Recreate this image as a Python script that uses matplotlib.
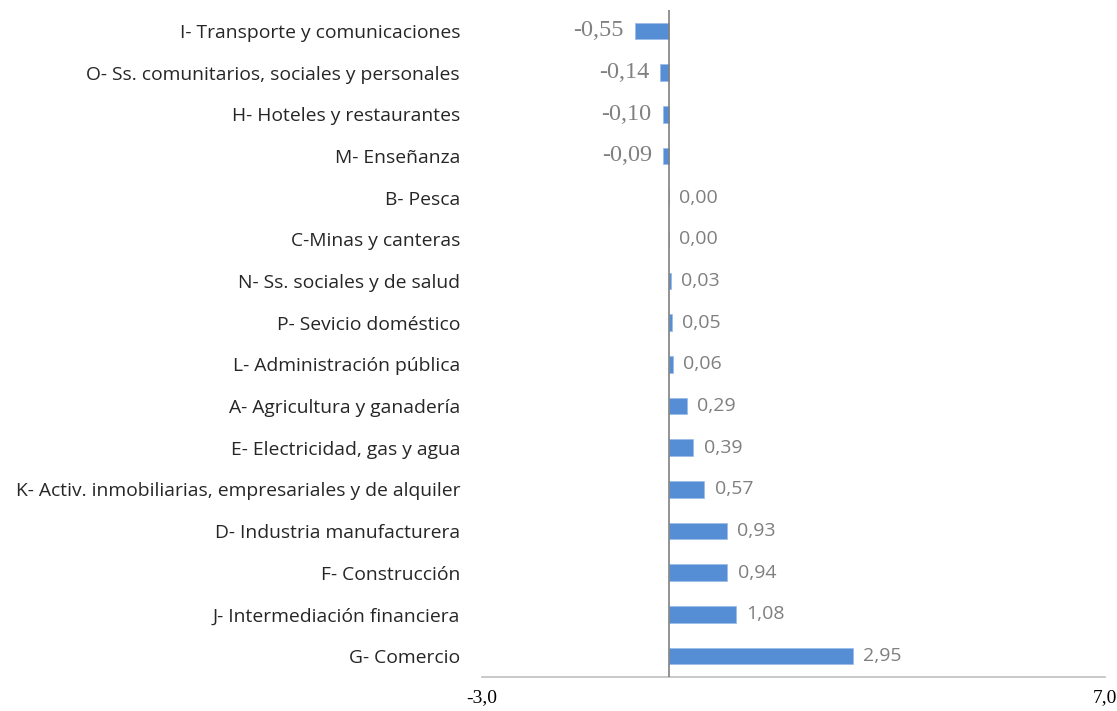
import matplotlib
matplotlib.use("Agg")
import matplotlib.pyplot as plt

categories = [
    "I- Transporte y comunicaciones",
    "O- Ss. comunitarios, sociales y personales",
    "H- Hoteles y restaurantes",
    "M- Enseñanza",
    "B- Pesca",
    "C-Minas y canteras",
    "N- Ss. sociales y de salud",
    "P- Sevicio doméstico",
    "L- Administración pública",
    "A- Agricultura y ganadería",
    "E- Electricidad, gas y agua",
    "K- Activ. inmobiliarias, empresariales y de alquiler",
    "D- Industria manufacturera",
    "F- Construcción",
    "J- Intermediación financiera",
    "G- Comercio",
]
values = [-0.55, -0.14, -0.10, -0.09, 0.00, 0.00, 0.03, 0.05, 0.06,
          0.29, 0.39, 0.57, 0.93, 0.94, 1.08, 2.95]
x_ticks = [-3.0, 7.0]
x_tick_labels = ["-3,0", "7,0"]

fig = plt.figure(figsize=(11.17, 7.11), dpi=100)
ax = fig.add_axes([482 / 1117, 1 - 677 / 711, (1105 - 482) / 1117, (677 - 10) / 711])

n = len(categories)
ypos = list(range(n))
ax.barh(ypos, values, height=0.4, color="#558ED5", edgecolor="#9DBDE8", linewidth=0.6, zorder=2)
ax.set_ylim(n - 0.5, -0.5)
ax.set_xlim(-3, 7)

ax.set_yticks(ypos)
ax.set_yticklabels(categories, family="Open Sans", fontsize=13.9, color="#262626")
ax.tick_params(axis="y", length=0, pad=15.8)
ax.set_xticks(x_ticks)
ax.set_xticklabels(x_tick_labels, family="Liberation Serif", fontsize=14, color="#000000")
ax.tick_params(axis="x", length=0, pad=9)

for s in ["top", "right", "left"]:
    ax.spines[s].set_visible(False)
ax.spines["bottom"].set_color("#BFBFBF")
ax.spines["bottom"].set_linewidth(1.2)
ax.axvline(0, color="#808080", linewidth=1.2, zorder=3)

for y, v in zip(ypos, values):
    txt = f"{v:.2f}".replace(".", ",")
    if v < 0:
        ax.annotate(txt, (v, y), xytext=(-8, 0), textcoords="offset points",
                    ha="right", va="center", family="Liberation Serif",
                    fontsize=17.5, color="#808080")
    else:
        ax.annotate(txt, (v, y), xytext=(7.5, 0), textcoords="offset points",
                    ha="left", va="center", family="Open Sans",
                    fontsize=14, color="#7F7F7F")

fig.savefig("out.png", dpi=100)
